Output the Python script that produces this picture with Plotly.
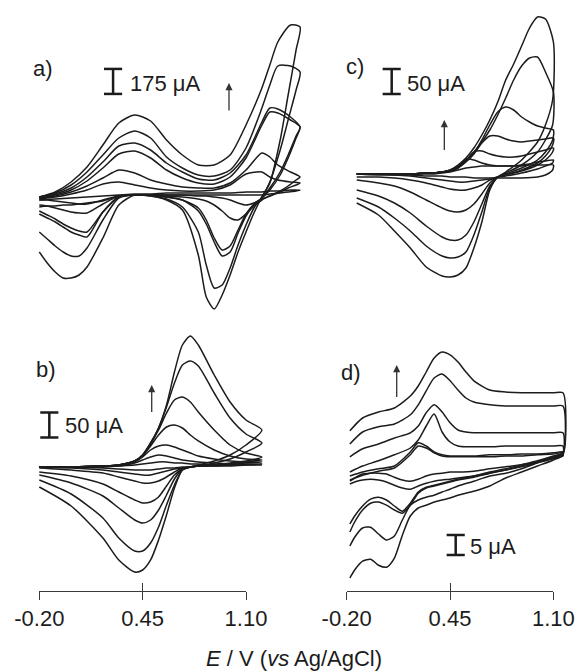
import plotly.graph_objects as go

# ---------------- data (E in V vs Ag/AgCl, current in uA) ----------------
# panel a
Ea_fwd = [-0.2, -0.1, 0.0, 0.1, 0.2, 0.3, 0.4, 0.5, 0.6, 0.7, 0.8, 0.9, 1.0, 1.1, 1.2, 1.25, 1.3, 1.38, 1.44]
Ea_rev = [1.415, 1.365, 1.315, 1.25, 1.2, 1.15, 1.1, 1.05, 1.0, 0.95, 0.9, 0.85, 0.8, 0.7, 0.6, 0.5, 0.4,
          0.3, 0.2, 0.1, 0.05, 0.0, -0.05, -0.1, -0.15, -0.2]
a_fwd = [
    [-35, -28, -21, -14, -7, 0, 7, 7, 14, 14, 14, 14, 14, 21, 21, 28, 28, 35, 35],
    [-28, -14, 7, 35, 77, 91, 70, 49, 35, 28, 28, 35, 70, 147, 161, 126, 105, 91, 84],
    [-21, -7, 21, 63, 119, 175, 154, 105, 77, 56, 49, 49, 84, 175, 294, 266, 210, 161, 126],
    [-21, 0, 35, 98, 189, 287, 308, 259, 175, 119, 84, 77, 126, 259, 490, 581, 574, 525, 476],
    [-14, 7, 49, 126, 231, 343, 364, 315, 224, 161, 112, 105, 154, 280, 511, 609, 602, 546, 476],
    [-14, 14, 70, 161, 280, 399, 448, 399, 266, 189, 140, 133, 175, 329, 609, 770, 903, 903, 861],
    [-14, 21, 91, 196, 350, 504, 560, 518, 385, 280, 210, 210, 280, 490, 749, 910, 1071, 1190, 1176],
]
a_rev = [
    [28, 21, 14, 7, 0, 0, 0, 0, 0, 0, 0, 0, 0, 0, 0, 0, 0, -7, -42, -56, -63, -70, -70, -77, -77, -84],
    [70, 49, 21, -7, -28, -56, -70, -56, -35, -21, -14, -7, -7, 0, 0, 0, 0, -7, -35, -63, -63, -56, -49, -42, -35, -35],
    [105, 63, 28, -7, -35, -77, -133, -175, -161, -112, -70, -42, -28, -14, -7, 0, 0, -7, -63, -126, -126, -119, -105, -91, -77, -70],
    [413, 280, 161, 49, -21, -63, -133, -245, -357, -385, -301, -175, -91, -35, -14, 0, 0, -14, -119, -259, -252, -231, -203, -168, -140, -112],
    [399, 259, 140, 35, -21, -70, -147, -266, -399, -427, -329, -203, -112, -35, -14, 0, 0, -14, -119, -294, -280, -259, -224, -189, -161, -133],
    [735, 525, 315, 91, -14, -91, -210, -350, -511, -630, -651, -490, -259, -84, -28, -7, 0, -21, -175, -371, -427, -427, -399, -357, -308, -259],
    [1015, 700, 385, 84, -14, -126, -259, -399, -560, -700, -798, -714, -420, -105, -35, -7, 0, -70, -301, -504, -560, -581, -581, -539, -476, -399],
]

# panel b
Eb_fwd = [-0.2, 0.0, 0.2, 0.3, 0.4, 0.45, 0.5, 0.55, 0.6, 0.65, 0.7, 0.75, 0.8, 0.9, 1.0, 1.1, 1.2]
Eb_rev = [1.1, 1.0, 0.9, 0.8, 0.75, 0.7, 0.65, 0.6, 0.55, 0.5, 0.45, 0.4, 0.3, 0.2, 0.0, -0.2]
b_fwd = [
    [0, 0, 0, 2, 4, 6, 8, 10, 10, 8, 8, 6, 6, 4, 4, 4, 4],
    [0, 0, 2, 2, 8, 14, 20, 24, 22, 18, 14, 12, 10, 8, 6, 6, 6],
    [0, 0, 2, 4, 10, 20, 34, 42, 44, 40, 34, 28, 22, 16, 12, 10, 10],
    [0, 0, 2, 4, 12, 22, 42, 64, 80, 84, 78, 64, 52, 34, 22, 16, 14],
    [0, 0, 2, 4, 12, 24, 46, 74, 108, 134, 140, 130, 110, 74, 44, 28, 20],
    [0, 0, 2, 4, 12, 24, 48, 78, 120, 168, 204, 212, 202, 148, 98, 66, 48],
    [0, 0, 2, 4, 12, 24, 48, 78, 124, 190, 244, 262, 244, 184, 130, 94, 74],
]
b_rev = [
    [4, 2, 2, 2, 0, 0, -2, -2, -4, -6, -6, -6, -4, -2, 0, 0],
    [4, 4, 2, 2, 0, -2, -4, -8, -12, -16, -16, -14, -10, -6, -2, 0],
    [8, 6, 4, 2, 0, -2, -10, -20, -28, -32, -32, -28, -20, -12, -6, -2],
    [10, 6, 4, 2, 0, -4, -16, -38, -60, -70, -72, -66, -50, -34, -18, -10],
    [12, 8, 4, 2, 0, -4, -24, -56, -86, -106, -112, -106, -82, -58, -32, -16],
    [30, 16, 8, 2, 0, -6, -36, -76, -120, -152, -168, -168, -142, -102, -54, -26],
    [44, 24, 12, 4, 0, -6, -42, -96, -146, -186, -206, -210, -186, -142, -78, -40],
]

# panel c
Ec_fwd = [-0.137, 0.0, 0.1, 0.2, 0.3, 0.35, 0.4, 0.45, 0.5, 0.55, 0.6, 0.65, 0.7, 0.75, 0.8, 0.85, 0.9,
          0.95, 1.0, 1.05, 1.1]
Ec_rev = [1.095, 1.05, 1.0, 0.9, 0.8, 0.75, 0.7, 0.65, 0.6, 0.55, 0.5, 0.45, 0.4, 0.3, 0.2, 0.1, 0.0, -0.137]
c_fwd = [
    [0, 0, 0, 0, 0, 0, 2, 4, 8, 12, 14, 16, 16, 16, 16, 16, 16, 18, 18, 18, 18],
    [0, 0, 0, 0, 2, 2, 4, 6, 14, 30, 28, 22, 18, 16, 16, 16, 18, 20, 24, 26, 28],
    [0, 0, 0, 0, 2, 2, 4, 6, 12, 26, 44, 46, 40, 36, 34, 34, 36, 40, 44, 48, 52],
    [0, 0, 0, 0, 2, 2, 4, 6, 12, 24, 40, 62, 76, 76, 70, 66, 64, 66, 68, 70, 72],
    [0, 0, 0, 0, 2, 2, 4, 6, 14, 26, 42, 68, 98, 124, 134, 128, 114, 104, 96, 92, 88],
    [0, 0, 0, 0, 2, 2, 4, 8, 16, 28, 44, 64, 88, 118, 152, 188, 216, 232, 234, 204, 164],
    [0, 0, 0, 0, 2, 2, 4, 8, 18, 32, 52, 78, 108, 144, 188, 220, 256, 292, 314, 310, 264],
]
c_rev = [
    [8, -2, -6, -8, -8, -8, -8, -8, -8, -6, -6, -6, -4, -4, -2, -2, 0, 0],
    [22, 16, 10, 2, -4, -6, -10, -12, -14, -16, -16, -14, -12, -8, -4, -2, -2, 0],
    [44, 28, 18, 6, -2, -6, -12, -22, -28, -32, -32, -30, -26, -18, -12, -8, -6, -6],
    [58, 36, 22, 8, -2, -6, -18, -40, -60, -72, -76, -74, -68, -52, -36, -24, -18, -12],
    [68, 44, 28, 12, 0, -6, -24, -60, -96, -122, -132, -132, -126, -104, -78, -58, -44, -32],
    [98, 68, 44, 18, 2, -6, -28, -76, -122, -156, -166, -168, -164, -144, -114, -88, -66, -48],
    [148, 98, 64, 28, 4, -6, -32, -96, -148, -188, -202, -206, -204, -186, -148, -114, -82, -58],
]

# panel d
Ed_fwd = [-0.18, -0.1, 0.0, 0.1, 0.2, 0.25, 0.3, 0.35, 0.4, 0.45, 0.5, 0.55, 0.6, 0.7, 0.8, 0.9, 1.0, 1.1, 1.16]
Ed_rev = [1.16, 1.1, 1.0, 0.9, 0.8, 0.7, 0.6, 0.5, 0.45, 0.4, 0.35, 0.3, 0.25, 0.2, 0.15, 0.1, 0.05, 0.0,
          -0.05, -0.1, -0.15, -0.18]
d_fwd = [
    [-2.5, -1.3, -0.3, 0.5, 3.8, 6.0, 5.5, 4.3, 3.5, 3.3, 3.3, 3.3, 3.3, 3.3, 3.5, 3.5, 3.8, 4.0, 4.3],
    [-1.5, -0.5, 0.3, 1.0, 4.5, 6.8, 6.0, 4.5, 3.8, 3.5, 3.5, 3.5, 3.5, 3.8, 3.8, 4.0, 4.0, 4.3, 4.5],
    [-0.5, 1.0, 2.3, 3.8, 5.5, 7.5, 11.0, 14.0, 9.5, 7.0, 6.0, 5.8, 5.8, 5.8, 6.0, 6.0, 6.0, 6.0, 6.0],
    [3.3, 5.3, 6.5, 8.0, 9.3, 11.0, 14.3, 16.3, 14.5, 11.8, 10.0, 9.5, 9.3, 9.3, 9.3, 9.3, 9.3, 9.3, 9.3],
    [6.5, 9.5, 10.8, 11.5, 13.8, 16.3, 19.8, 23.0, 24.0, 22.3, 20.0, 18.0, 17.0, 16.3, 16.0, 16.0, 16.0, 16.0, 16.0],
    [9.8, 13.0, 14.5, 15.5, 18.5, 21.0, 24.5, 28.0, 29.5, 28.8, 27.0, 24.5, 22.3, 20.0, 19.5, 19.3, 19.3, 19.3, 19.3],
]
d_rev = [
    [3.5, 2.8, 1.8, 0.8, 0.0, -0.8, -1.5, -2.0, -2.3, -2.5, -2.8, -3.3, -4.0, -4.8, -4.5, -3.8, -3.0, -2.5, -2.3, -2.5, -3.0, -3.5],
    [3.8, 3.0, 2.0, 1.3, 0.8, 0.3, -0.3, -0.5, -0.5, -0.8, -1.0, -1.5, -2.3, -2.8, -2.5, -1.8, -1.0, -0.8, -0.8, -1.0, -2.0, -2.8],
    [4.0, 3.3, 2.0, 1.0, 0.0, -0.8, -1.8, -2.5, -3.0, -3.5, -4.0, -4.5, -5.8, -8.8, -10.8, -10.0, -8.8, -8.0, -8.3, -10.0, -13.0, -15.5],
    [4.3, 3.5, 2.3, 1.3, 0.3, -0.5, -1.5, -2.3, -2.8, -3.3, -3.8, -4.3, -5.5, -8.3, -10.3, -9.0, -7.5, -6.8, -7.3, -9.0, -11.5, -13.5],
    [4.3, 3.3, 1.8, 0.3, -0.8, -1.5, -2.8, -4.0, -4.8, -5.5, -6.3, -6.8, -7.5, -8.8, -12.5, -16.5, -17.5, -16.0, -14.3, -14.5, -16.8, -19.0],
    [3.8, 2.5, 1.0, -0.5, -2.0, -4.0, -5.3, -6.3, -7.0, -7.5, -8.0, -8.8, -9.5, -11.5, -16.3, -22.0, -24.3, -23.8, -22.3, -22.8, -25.0, -27.0],
]

tick_vals = [-0.20, 0.45, 1.10]
tick_text = ["-0.20", "0.45", "1.10"]
panel_labels = ["a)", "b)", "c)", "d)"]
scale_values = [175, 50, 50, 5]          # uA, scale bars of panels a, b, c, d
scale_texts = ["175 \u03bcA", "50 \u03bcA", "50 \u03bcA", "5 \u03bcA"]

# ---------------- figure ----------------
W, H = 581, 671
FONT = "Liberation Sans, Arial, Helvetica, sans-serif"
INK = "#1c1c1c"

fig = go.Figure()

panels = [
    (Ea_fwd, Ea_rev, a_fwd, a_rev, "x", "y"),
    (Eb_fwd, Eb_rev, b_fwd, b_rev, "x2", "y2"),
    (Ec_fwd, Ec_rev, c_fwd, c_rev, "x3", "y3"),
    (Ed_fwd, Ed_rev, d_fwd, d_rev, "x4", "y4"),
]
for E_f, E_r, fwd, rev, xa, ya in panels:
    for f, r in zip(fwd, rev):
        fig.add_trace(go.Scatter(
            x=E_f + E_r, y=f + r, mode="lines",
            line=dict(color=INK, width=1.5, shape="spline", smoothing=0.7),
            xaxis=xa, yaxis=ya, showlegend=False, hoverinfo="skip"))

# invisible helpers so the potential axes are drawn
for xa, ya in [("x5", "y5"), ("x6", "y6"), ("x7", "y5"), ("x8", "y6")]:
    fig.add_trace(go.Scatter(x=tick_vals, y=[0.5] * 3, mode="markers",
                             marker=dict(opacity=0), xaxis=xa, yaxis=ya,
                             showlegend=False, hoverinfo="skip"))

hidden = dict(visible=False, showgrid=False, zeroline=False, fixedrange=True, automargin=False)
xl_range = [-0.44717, 1.56258]
xr_range = [-0.55346, 1.27358]
layout_axes = dict(
    xaxis=dict(domain=[0, 0.55], range=xl_range, anchor="y", **hidden),
    yaxis=dict(domain=[0.50820, 1.0], range=[-945, 1365], anchor="x", **hidden),
    xaxis2=dict(domain=[0, 0.55], range=xl_range, anchor="y2", **hidden),
    yaxis2=dict(domain=[0.12817, 0.50075], range=[-236, 264], anchor="x2", **hidden),
    xaxis3=dict(domain=[0.5, 1.0], range=xr_range, anchor="y3", **hidden),
    yaxis3=dict(domain=[0.50820, 1.0], range=[-312, 348], anchor="x3", **hidden),
    xaxis4=dict(domain=[0.5, 1.0], range=xr_range, anchor="y4", **hidden),
    yaxis4=dict(domain=[0.12817, 0.49329], range=[-28.75, 32.5], anchor="x4", **hidden),
)

def pot_axis(domain, anchor, outside=True, overlay=None):
    d = dict(domain=domain, range=[-0.2, 1.1], anchor=anchor, showgrid=False,
             zeroline=False, showline=True, linecolor="#3a3a3a", linewidth=1,
             tickmode="array", tickvals=tick_vals, ticktext=tick_text,
             ticks="outside" if outside else "inside", ticklen=8, tickwidth=1,
             tickcolor="#3a3a3a", showticklabels=outside, automargin=False,
             tickfont=dict(family=FONT, size=22, color=INK), fixedrange=True)
    if overlay:
        d["overlaying"] = overlay
    return d

left_dom = [39.3 / W, 246.0 / W]
right_dom = [346.7 / W, 553.3 / W]
ybase = 1 - 590.7 / H
layout_axes.update(
    xaxis5=pot_axis(left_dom, "y5"),
    xaxis6=pot_axis(right_dom, "y6"),
    xaxis7=pot_axis(left_dom, "y5", outside=False, overlay="x5"),
    xaxis8=pot_axis(right_dom, "y6", outside=False, overlay="x6"),
    yaxis5=dict(domain=[ybase, ybase + 0.006], range=[0, 1], anchor="x5", **hidden),
    yaxis6=dict(domain=[ybase, ybase + 0.006], range=[0, 1], anchor="x6", **hidden),
)

# scale bars (in data units of each panel)
bar_specs = [  # (xref, yref, E position, centre current, cap half-width in V)
    ("x", "y", 0.264, 795, 0.057),
    ("x2", "y2", -0.137, 84, 0.057),
    ("x3", "y3", 0.083, 185, 0.057),
    ("x4", "y4", 0.4855, -18.75, 0.057),
]
shapes = []
for (xr, yr, ex, yc, hw), val in zip(bar_specs, scale_values):
    y0, y1 = yc - val / 2, yc + val / 2
    lw = dict(color=INK, width=2.5)
    shapes.append(dict(type="line", xref=xr, yref=yr, x0=ex, x1=ex, y0=y0, y1=y1, line=lw))
    shapes.append(dict(type="line", xref=xr, yref=yr, x0=ex - hw, x1=ex + hw, y0=y0, y1=y0, line=lw))
    shapes.append(dict(type="line", xref=xr, yref=yr, x0=ex - hw, x1=ex + hw, y0=y1, y1=y1, line=lw))

annotations = []
text_specs = [("x", "y", 0.358, 784), ("x2", "y2", -0.051, 82),
              ("x3", "y3", 0.1667, 182), ("x4", "y4", 0.563, -19)]
for (xr, yr, ex, ey), txt in zip(text_specs, scale_texts):
    annotations.append(dict(xref=xr, yref=yr, x=ex, y=ey, text=txt, showarrow=False,
                            xanchor="left", yanchor="middle",
                            font=dict(family=FONT, size=22, color=INK)))

label_pos = [(43, 68), (46, 370), (355, 67), (351, 372)]
for (px, py), lab in zip(label_pos, panel_labels):
    annotations.append(dict(xref="paper", yref="paper", x=px / W, y=1 - py / H, text=lab,
                            showarrow=False, xanchor="center", yanchor="middle",
                            font=dict(family=FONT, size=22, color=INK)))

arrow_specs = [("x", "y", 0.993, 784, 581), ("x2", "y2", 0.507, 164, 107),
               ("x3", "y3", 0.414, 108, 45), ("x4", "y4", 0.1145, 26.25, 17.9)]
for xr, yr, ex, head, tail in arrow_specs:
    annotations.append(dict(xref=xr, yref=yr, x=ex, y=head, axref=xr, ayref=yr, ax=ex, ay=tail,
                            text="", showarrow=True, arrowhead=2, arrowsize=1.1,
                            arrowwidth=1.3, arrowcolor="#333333", standoff=0, startstandoff=0))

annotations.append(dict(xref="paper", yref="paper", x=294 / W, y=1 - 658 / H,
                        text="<i>E</i> / V (<i>vs</i> Ag/AgCl)", showarrow=False,
                        xanchor="center", yanchor="middle",
                        font=dict(family=FONT, size=22, color=INK)))

fig.update_layout(
    width=W, height=H, margin=dict(l=0, r=0, t=0, b=0, autoexpand=False),
    paper_bgcolor="white", plot_bgcolor="rgba(0,0,0,0)",
    showlegend=False, shapes=shapes, annotations=annotations,
    font=dict(family=FONT, size=22, color=INK),
    **layout_axes)

fig.write_html("out.html", config={"displayModeBar": False, "staticPlot": True})
